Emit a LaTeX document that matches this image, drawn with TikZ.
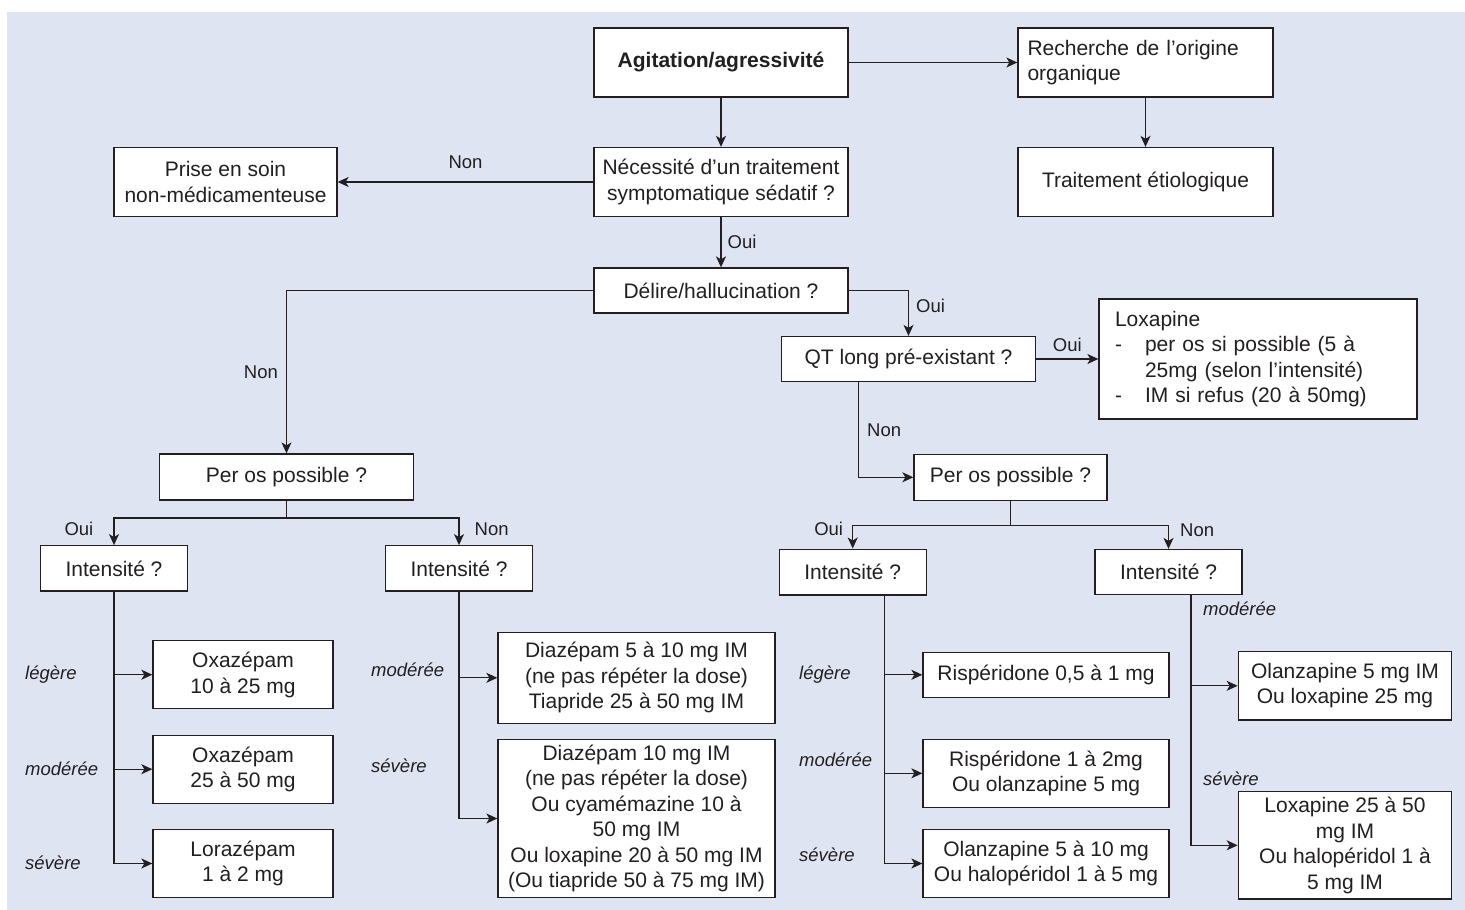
\documentclass[tikz,border=0pt]{standalone}
\usepackage{fontspec}
\setmainfont{Liberation Sans}
\usetikzlibrary{arrows.meta, calc}

\definecolor{bgblue}{RGB}{222,228,242}
\definecolor{ink}{RGB}{35,31,32}

\newcommand{\boxfont}{\fontsize{21}{25.5}\selectfont}
\newcommand{\lblfont}{\fontsize{18.5}{22}\selectfont}

\tikzset{
  box/.style={draw=ink, fill=white, line width=1.3pt, inner sep=0pt, align=center, font=\boxfont, text=ink},
  sz/.style 2 args={minimum width=#1pt, minimum height=#2pt},
  link/.style={draw=ink, line width=1.3pt},
  flow/.style={link, -{Stealth[length=11pt, width=10pt, inset=3pt]}},
  lbl/.style={font=\lblfont, text=ink, inner sep=0pt},
  sev/.style={lbl, font=\lblfont\itshape, anchor=west},
}

\begin{document}
\begin{tikzpicture}[x=1pt, y=-1pt]
  \useasboundingbox (0,0) rectangle (1465,910);
  \fill[bgblue] (7,12) rectangle (1465,910);

  % top of the chart
  \node[box, sz={254}{69}, font=\boxfont\bfseries] (agit) at (721,62.5) {Agitation/agressivité};
  \node[box, sz={255}{69}, align=left, text width=236pt, inner xsep=9.5pt] (rech) at (1145.5,62.5) {Recherche de l’origine\\organique};
  \node[box, sz={254}{69}] (necess) at (721,182) {Nécessité d’un traitement\\symptomatique sédatif ?};
  \node[box, sz={255}{69}] (etio) at (1145.5,182) {Traitement étiologique};
  \node[box, sz={223}{69}] (prise) at (225.5,182) {Prise en soin\\non-médicamenteuse};
  \node[box, sz={254}{45}] (delire) at (721,290.5) {Délire/hallucination ?};
  \node[box, sz={254}{45}] (qt) at (908.5,359) {QT long pré-existant ?};
  \node[box, sz={318}{120}, align=left, text width=286pt, inner xsep=16pt] (loxa) at (1258,359)
    {Loxapine\\
     \makebox[30pt][l]{-}per os si possible (5 à\\
     \hspace*{30pt}25mg (selon l’intensité)\\
     \makebox[30pt][l]{-}IM si refus (20 à 50mg)};

  % per os / intensite
  \node[box, sz={254}{46}] (perosL) at (286.5,477) {Per os possible ?};
  \node[box, sz={193}{46}] (perosR) at (1010.5,477.3) {Per os possible ?};
  \node[box, sz={147}{45.3}] (intL1) at (114,568.4) {Intensité ?};
  \node[box, sz={147}{45.3}] (intL2) at (459,568.4) {Intensité ?};
  \node[box, sz={147}{45.7}] (intR1) at (852.7,572) {Intensité ?};
  \node[box, sz={147}{45}] (intR2) at (1168.5,572) {Intensité ?};

  % treatments
  \node[box, sz={180}{68}] (oxa1) at (243,674.7) {Oxazépam\\10 à 25 mg};
  \node[box, sz={180}{68}] (oxa2) at (243,769.2) {Oxazépam\\25 à 50 mg};
  \node[box, sz={180}{68.4}] (lora) at (243,863.5) {Lorazépam\\1 à 2 mg};
  \node[box, sz={277}{91}] (diaz1) at (636.5,677.8)
    {Diazépam 5 à 10 mg IM\\(ne pas répéter la dose)\\Tiapride 25 à 50 mg IM};
  \node[box, sz={277}{158.4}] (diaz2) at (636.5,818.5)
    {Diazépam 10 mg IM\\(ne pas répéter la dose)\\Ou cyamémazine 10 à\\50 mg IM\\Ou loxapine 20 à 50 mg IM\\(Ou tiapride 50 à 75 mg IM)};
  \node[box, sz={246}{45}] (risp1) at (1046,674.8) {Rispéridone 0,5 à 1 mg};
  \node[box, sz={246}{68}] (risp2) at (1046,773.3) {Rispéridone 1 à 2mg\\Ou olanzapine 5 mg};
  \node[box, sz={246}{68.4}] (olan) at (1046,863.5) {Olanzapine 5 à 10 mg\\Ou halopéridol 1 à 5 mg};
  \node[box, sz={213.4}{68.3}] (olanIM) at (1345,685.8) {Olanzapine 5 mg IM\\Ou loxapine 25 mg};
  \node[box, sz={213.4}{107.3}] (loxIM) at (1345,845.3) {Loxapine 25 à 50\\mg IM\\Ou halopéridol 1 à\\5 mg IM};

  % connectors, top
  \draw[flow] (agit) -- (necess);
  \draw[flow] (agit) -- (rech);
  \draw[flow] (rech) -- (etio);
  \draw[flow] (necess) -- node[lbl, above=13pt] (nonA) {Non} (prise);
  \draw[flow] (necess) -- node[lbl, right=6pt] (ouiA) {Oui} (delire);
  \draw[flow] (delire.west) -| node[lbl, pos=0.75, left=8pt] (nonB) {Non} (perosL.north);
  \draw[flow] (delire.east) -| node[lbl, pos=0.675, right=7pt] (ouiB) {Oui} (qt.north);
  \draw[flow] (qt) -- node[lbl, above=7pt] (ouiC) {Oui} (loxa);
  \draw[flow] ([xshift=-50pt]qt.south) |- node[lbl, pos=0.25, right=8pt] (nonC) {Non} (perosR.west);

  % per os splits
  \coordinate (jL) at ($(perosL.south)+(0,17.3)$);
  \coordinate (jR) at ($(perosR.south)+(0,24.7)$);
  \draw[link] (perosL.south) -- (jL);
  \draw[link] (perosR.south) -- (jR);
  \draw[flow] (jL) -| node[lbl, pos=0.7, left=20pt] (ouiL) {Oui} (intL1.north);
  \draw[flow] (jL) -| node[lbl, pos=0.7, right=15pt] (nonL) {Non} (intL2.north);
  \draw[flow] (jR) -| node[lbl, pos=0.57, left=9pt] (ouiR) {Oui} (intR1.north);
  \draw[flow] (jR) -| node[lbl, pos=0.6, right=11pt] (nonR) {Non} (intR2.north);

  % intensite branches
  \draw[flow] (intL1.south) |- (lora.west);
  \draw[flow] (intL1.south |- oxa1.west) -- (oxa1.west);
  \draw[flow] (intL1.south |- oxa2.west) -- (oxa2.west);

  \draw[flow] (intL2.south) |- (diaz2.west);
  \draw[flow] (intL2.south |- diaz1.west) -- (diaz1.west);

  \coordinate (vR1) at ([xshift=31.6pt]intR1.south);
  \draw[flow] (vR1) |- (olan.west);
  \draw[flow] (vR1 |- risp1.west) -- (risp1.west);
  \draw[flow] (vR1 |- risp2.west) -- (risp2.west);

  \coordinate (vR2) at ([xshift=22.5pt]intR2.south);
  \draw[flow] (vR2) |- (loxIM.west);
  \draw[flow] (vR2 |- olanIM.west) -- (olanIM.west);

  % intensity labels
  \node[sev] (legL1) at (25,675) {légère};
  \node[sev] (modL1) at (25,769) {modérée};
  \node[sev] (sevL1) at (25,863) {sévère};
  \node[sev] (modL2) at (371,670) {modérée};
  \node[sev] (sevL2) at (371,765.7) {sévère};
  \node[sev] (legR1) at (799,675) {légère};
  \node[sev] (modR1) at (799,759.3) {modérée};
  \node[sev] (sevR1) at (799,855) {sévère};
  \node[sev] (modR2) at (1203,608.3) {modérée};
  \node[sev] (sevR2) at (1203,778.3) {sévère};
\end{tikzpicture}
\end{document}
